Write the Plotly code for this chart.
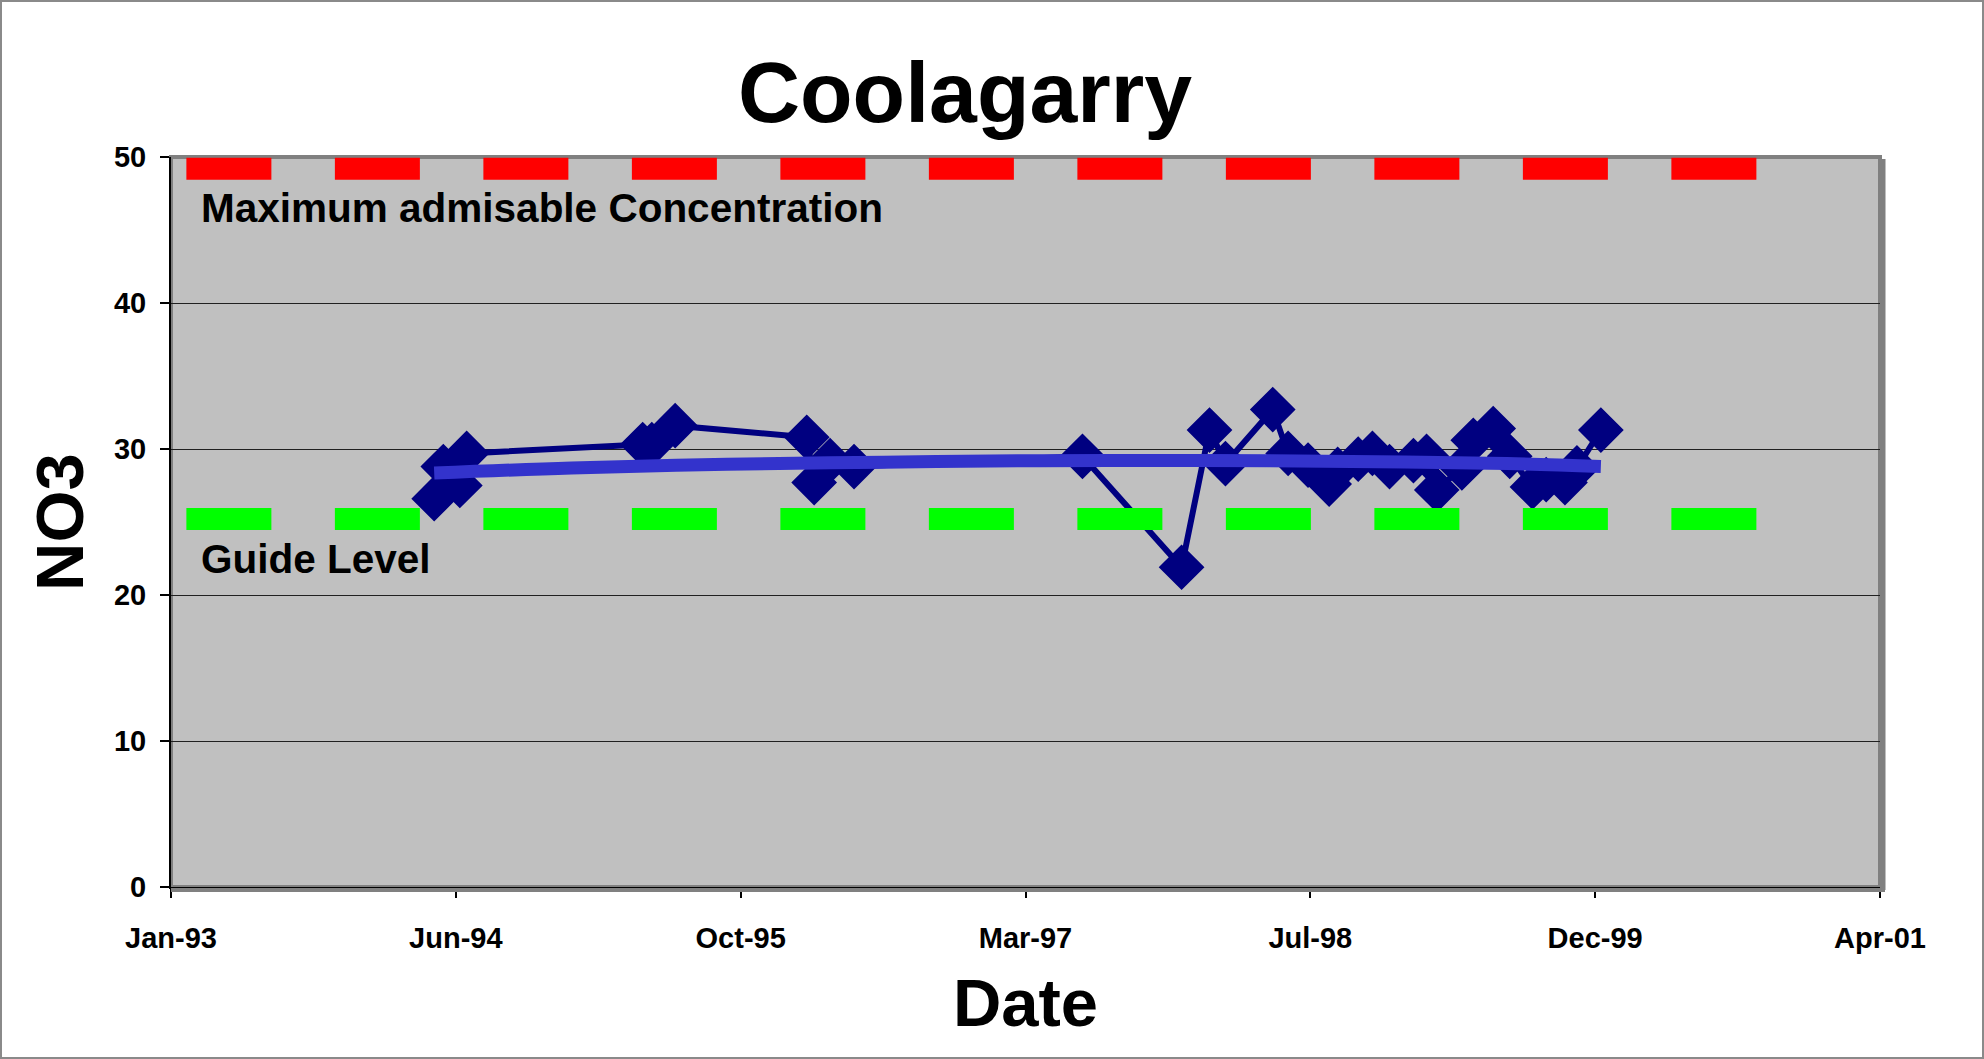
import plotly.graph_objects as go
import pandas as pd

# ---------------- data ----------------
sample_dates = [
    "1994-05-05", "1994-05-21", "1994-06-19", "1994-07-01",
    "1995-05-06", "1995-05-22", "1995-07-02",
    "1996-02-18", "1996-03-02", "1996-03-30", "1996-05-11",
    "1997-06-16", "1997-12-07",
    "1998-01-25", "1998-02-22", "1998-05-16", "1998-06-12", "1998-07-17",
    "1998-08-23", "1998-09-07", "1998-10-13", "1998-11-07", "1998-12-07",
    "1999-01-18", "1999-02-10", "1999-02-28", "1999-04-13", "1999-05-03",
    "1999-06-07", "1999-07-06", "1999-08-15", "1999-09-08", "1999-10-11",
    "1999-11-01", "1999-12-13",
]
no3_values = [
    26.6, 28.8, 27.5, 29.7,
    30.3, 30.3, 31.6,
    30.8, 27.7, 29.2, 28.8,
    29.5, 21.9,
    31.3, 29.0, 32.7, 29.7, 28.9,
    27.6, 28.6, 29.3, 29.7, 28.8,
    29.2, 29.5, 27.2, 28.7, 30.6,
    31.4, 29.5, 27.4, 27.9, 27.7,
    28.7, 31.3,
]

trend_dates = ["1994-05-05", "1995-01-01", "1995-10-01", "1996-07-01", "1997-04-01",
               "1998-01-01", "1998-10-01", "1999-07-01", "1999-12-13"]
trend_values = [28.35, 28.7, 28.95, 29.1, 29.2, 29.22, 29.15, 29.0, 28.8]

mac_dates = ["1993-02-24", "2000-11-09"]
mac_values = [49.2, 49.2]
guide_dates = ["1993-02-24", "2000-11-09"]
guide_values = [25.2, 25.2]

x_tick_labels = ["Jan-93", "Jun-94", "Oct-95", "Mar-97", "Jul-98", "Dec-99", "Apr-01"]
y_tick_values = [0, 10, 20, 30, 40, 50]

axis_start = pd.Timestamp("1993-01-28")
tick_step_days = 500
x_tick_values = [axis_start + pd.Timedelta(days=tick_step_days * i) for i in range(len(x_tick_labels))]
x_range = [x_tick_values[0], x_tick_values[-1]]

FONT = "Liberation Sans, Arial, sans-serif"
NAVY = "#000080"

fig = go.Figure()

fig.add_trace(go.Scatter(
    x=sample_dates, y=no3_values, mode="lines+markers",
    line=dict(color=NAVY, width=6),
    marker=dict(symbol="diamond", size=33, color=NAVY, line=dict(color=NAVY, width=2)),
    showlegend=False, hoverinfo="x+y",
))
fig.add_trace(go.Scatter(
    x=trend_dates, y=trend_values, mode="lines",
    line=dict(color="#3333CC", width=13, shape="spline"),
    showlegend=False,
))
fig.add_trace(go.Scatter(
    x=mac_dates, y=mac_values, mode="lines",
    line=dict(color="#FF0000", width=22, dash="85px,63.5px"),
    showlegend=False,
))
fig.add_trace(go.Scatter(
    x=guide_dates, y=guide_values, mode="lines",
    line=dict(color="#00FF00", width=22, dash="85px,63.5px"),
    showlegend=False,
))

W, H = 1984, 1059
ML, MR, MT, MB = 171, 104, 157, 172
pw, ph = W - ML - MR, H - MT - MB

fig.update_layout(
    width=W, height=H,
    margin=dict(l=ML, r=MR, t=MT, b=MB, autoexpand=False),
    paper_bgcolor="white",
    plot_bgcolor="#C0C0C0",
    font=dict(family=FONT, color="black"),
    title=dict(
        text="Coolagarry",
        font=dict(size=86, family=FONT, weight="bold", color="black"),
        x=965 / W, xref="container", xanchor="center",
        y=1 - 92 / H, yref="container", yanchor="middle",
    ),
    xaxis=dict(
        type="date", range=x_range,
        tickvals=x_tick_values, ticktext=x_tick_labels,
        tickfont=dict(size=29, family=FONT, weight="bold"),
        ticks="outside", ticklen=9, tickwidth=1.5, tickcolor="black",
        ticklabelstandoff=15,
        showline=True, linecolor="black", linewidth=2,
        showgrid=False, zeroline=False,
        title=dict(text="Date", font=dict(size=67, family=FONT, weight="bold"), standoff=26),
        automargin=False,
    ),
    yaxis=dict(
        range=[0, 50], tickvals=y_tick_values,
        tickfont=dict(size=29, family=FONT, weight="bold"),
        ticks="outside", ticklen=9, tickwidth=1.5, tickcolor="black",
        ticklabelstandoff=8,
        showline=True, linecolor="black", linewidth=2,
        showgrid=True, gridcolor="#202020", gridwidth=1,
        zeroline=False,
        title=dict(text="NO3", font=dict(size=67, family=FONT, weight="bold"), standoff=8),
        automargin=False,
    ),
    annotations=[
        dict(text="Maximum admisable Concentration", xref="paper", yref="y",
             x=(199 - ML) / pw, y=46.5, xanchor="left", yanchor="middle",
             showarrow=False, font=dict(size=40.5, family=FONT, weight="bold", color="black")),
        dict(text="Guide Level", xref="paper", yref="y",
             x=(199 - ML) / pw, y=22.5, xanchor="left", yanchor="middle",
             showarrow=False, font=dict(size=40.5, family=FONT, weight="bold", color="black")),
    ],
    shapes=[
        # plot area border
        dict(type="rect", xref="paper", yref="paper", x0=0, x1=1, y0=0, y1=1,
             line=dict(color="#808080", width=4), layer="below"),
        # shadow right & bottom
        dict(type="line", xref="paper", yref="paper", x0=1 + 3 / pw, x1=1 + 3 / pw,
             y0=-3 / ph, y1=1 - 2 / ph, line=dict(color="#808080", width=5)),
        dict(type="line", xref="paper", yref="paper", x0=0, x1=1 + 5 / pw,
             y0=-3 / ph, y1=-3 / ph, line=dict(color="#808080", width=4)),
        # figure border
        dict(type="rect", xref="paper", yref="paper",
             x0=-(ML - 1) / pw, x1=1 + (MR - 1) / pw,
             y0=-(MB - 1) / ph, y1=1 + (MT - 1) / ph,
             line=dict(color="#8a8a8a", width=2)),
    ],
)

fig.write_html(
    "out.html",
    config={"displayModeBar": False},
    post_script="document.body.style.margin='0px';document.body.style.overflow='hidden';",
)
